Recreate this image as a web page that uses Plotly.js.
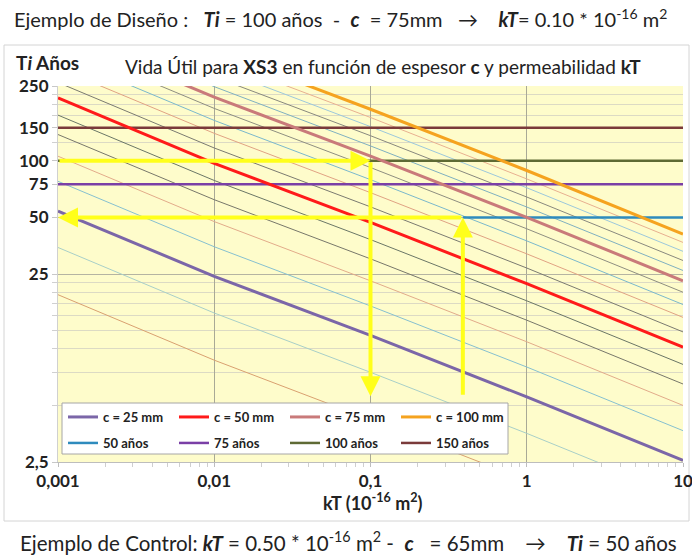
<!DOCTYPE html>
<html><head><meta charset="utf-8">
<script src="https://cdn.plot.ly/plotly-3.0.1.min.js"></script>
<style>html,body{margin:0;padding:0;background:#fff}#chart{width:692px;height:555px}</style>
</head><body><div id="chart"></div>
<script>
// permeability kT (10^-16 m2) at which the curves were read
const kT = [0.001, 0.01, 0.1, 1, 10];
// service life Ti (years) read for each cover thickness c (mm)
const c15  = [19.4, 8.7, 4.2, 2.0, 0.92];
const c20  = [34.6, 15.5, 7.5, 3.55, 1.63];
const c25  = [54, 24.3, 11.8, 5.55, 2.55];
const c30  = [77.8, 34.9, 16.9, 8.0, 3.67];
const c35  = [105.8, 47.5, 23.0, 10.9, 5.0];
const c40  = [138, 62.1, 30.1, 14.2, 6.5];
const c45  = [175, 78.6, 38.1, 18.0, 8.26];
const c50  = [216, 97, 47, 22.2, 10.2];
const c55  = [261, 117, 56.9, 26.9, 12.3];
const c60  = [311, 140, 67.7, 32.0, 14.7];
const c65  = [365, 164, 79.4, 37.5, 17.2];
const c70  = [423, 190, 92.1, 43.5, 20.0];
const c75  = [486, 218, 106, 50.0, 23.0];
const c80  = [553, 248, 120, 56.8, 26.1];
const c85  = [624, 280, 136, 64.2, 29.5];
const c90  = [700, 314, 152, 71.9, 33.0];
const c95  = [780, 350, 170, 80.1, 36.8];
const c100 = [864, 388, 188, 88.8, 40.8];
// reference service-life lines (years) and their kT extent
const yearLevels = [50, 75, 100, 150];
const yearNames = ['50 años', '75 años', '100 años', '150 años'];
const yearStartKT = [0.39, 0.001, 0.001, 0.001];
const yearEndKT = 10;
// examples (design / control)
const designKT = 0.1, designTi = 100;
const controlKT = 0.39, controlTi = 50;
const arrowBottomTi = 5.6;
// tick labels
const xTickVals = [0.001, 0.01, 0.1, 1, 10];
const xTickText = ['0,001', '0,01', '0,1', '1', '10'];
const yTickVals = [2.5, 25, 50, 75, 100, 150, 250];
const yTickText = ['2,5', '25', '50', '75', '100', '150', '250'];
const yMinorVals = [5, 7.5, 10, 12.5, 15, 17.5, 20, 22.5, 125, 175, 200, 225];
const xMinorVals = [0.002,0.003,0.004,0.005,0.006,0.007,0.008,0.009,
  0.02,0.03,0.04,0.05,0.06,0.07,0.08,0.09,
  0.2,0.3,0.4,0.5,0.6,0.7,0.8,0.9,
  2,3,4,5,6,7,8,9];

const thin = [
  [c15, '#d9a070'], [c20, '#a8cfc8'], [c30, '#86c0d0'], [c35, '#e2ab8a'],
  [c40, '#77776a'], [c45, '#6a7666'], [c55, '#7a7a70'], [c60, '#e0a283'],
  [c65, '#7ab8cc'], [c70, '#8e8e80'], [c80, '#7fb0c0'], [c85, '#88887e'],
  [c90, '#9cc8dc'], [c95, '#e8b090']
];
const thick = [
  [c25, 'c = 25 mm', '#7b66a8'], [c50, 'c = 50 mm', '#ff1a1a'],
  [c75, 'c = 75 mm', '#c97a7a'], [c100, 'c = 100 mm', '#f5a31f']
];
const yearColors = ['#2e8bbd', '#7a3fa6', '#5e6a34', '#7a3a3a'];

const traces = [];
thin.forEach(([ys, col]) => traces.push({x: kT, y: ys, mode: 'lines', line: {color: col, width: 1}, showlegend: false, hoverinfo: 'skip'}));
yearLevels.forEach((v, i) => traces.push({x: [yearStartKT[i], yearEndKT], y: [v, v], mode: 'lines', name: yearNames[i], legend: 'legend2', line: {color: yearColors[i], width: 2.5}}));
thick.forEach(([ys, nm, col]) => traces.push({x: kT, y: ys, mode: 'lines', name: nm, legend: 'legend', line: {color: col, width: 3}}));

const xp = px => (px - 58) / 625;
const yp = py => (462 - py) / 376;
const L = Math.log10;
const nb = '\u00a0';

const yellow = '#ffff1a';
function arrow(x, y, ax, ay) {
  return {x: L(x), y: L(y), ax: L(ax), ay: L(ay), xref: 'x', yref: 'y', axref: 'x', ayref: 'y',
    text: '', showarrow: true, arrowhead: 2, arrowsize: 1, arrowwidth: 4, arrowcolor: yellow, standoff: 0};
}

const annotations = [
  {xref: 'paper', yref: 'paper', x: xp(12), y: yp(18), xanchor: 'left', yanchor: 'middle', showarrow: false,
   font: {size: 20, color: '#222'},
   text: 'Ejemplo de Diseño :' + nb + nb + ' <b><i>Ti</i></b> = 100 años ' + nb + '- ' + nb + '<b><i>c</i></b>' + nb + ' = 75mm' + nb + nb + ' →' + nb + nb + nb + ' <b><i>kT</i></b>= 0.10 * 10<sup>-16</sup> m<sup>2</sup>'},
  {xref: 'paper', yref: 'paper', x: xp(18), y: yp(541), xanchor: 'left', yanchor: 'middle', showarrow: false,
   font: {size: 20.5, color: '#222'},
   text: 'Ejemplo de Control: <b><i>kT</i></b> = 0.50 * 10<sup>-16</sup> m<sup>2</sup> - ' + nb + '<b><i>c</i></b>' + nb + nb + ' = 65mm' + nb + nb + nb + ' →' + nb + nb + nb + ' <b><i>Ti</i></b> = 50 años'},
  {xref: 'paper', yref: 'paper', x: xp(383), y: yp(66), xanchor: 'center', yanchor: 'middle', showarrow: false,
   font: {size: 19, color: '#222'},
   text: 'Vida Útil para <b>XS3</b> en función de espesor <b>c</b> y permeabilidad <b>kT</b>'},
  {xref: 'paper', yref: 'paper', x: xp(14), y: yp(62), xanchor: 'left', yanchor: 'middle', showarrow: false,
   font: {size: 19, color: '#222'}, text: '<b>T<i>i</i> Años</b>'},
  {xref: 'paper', yref: 'paper', x: xp(373), y: yp(502), xanchor: 'center', yanchor: 'middle', showarrow: false,
   font: {size: 18, color: '#222'}, text: '<b>kT (10<sup>-16</sup> m<sup>2</sup>)</b>'},
  arrow(designKT, designTi, 0.001, designTi),
  arrow(designKT, arrowBottomTi, designKT, designTi),
  arrow(controlKT, controlTi, controlKT, arrowBottomTi),
  arrow(0.001, controlTi, controlKT, controlTi)
];

const legendCommon = {orientation: 'h', xanchor: 'left', yanchor: 'middle', bgcolor: 'rgba(0,0,0,0)', borderwidth: 0,
  font: {size: 13, color: '#222', weight: 700}, entrywidth: 66, entrywidthmode: 'pixels', itemwidth: 30, traceorder: 'normal'};

const layout = {
  width: 692, height: 555,
  margin: {l: 58, r: 9, t: 86, b: 93},
  paper_bgcolor: '#ffffff', plot_bgcolor: '#fefccb',
  font: {family: 'Lato, "Open Sans", sans-serif', color: '#222'},
  showlegend: true,
  legend: Object.assign({x: xp(63), y: yp(417)}, legendCommon),
  legend2: Object.assign({x: xp(63), y: yp(443)}, legendCommon),
  xaxis: {type: 'log', range: [-3, 1], tickmode: 'array', tickvals: xTickVals, ticktext: xTickText,
    tickfont: {size: 17, weight: 700, color: '#222'}, ticklabeloverflow: 'allow',
    showgrid: true, gridcolor: '#a9a996', gridwidth: 1,
    ticks: 'outside', ticklen: 4, tickcolor: '#bdbdbd', showline: true, linecolor: '#bdbdbd', zeroline: false,
    minor: {tickmode: 'array', tickvals: xMinorVals, ticks: 'outside', ticklen: 4, tickcolor: '#cfcfcf', showgrid: false},
    fixedrange: true},
  yaxis: {type: 'log', range: [L(2.5), L(250)], tickmode: 'array', tickvals: yTickVals, ticktext: yTickText,
    tickfont: {size: 17, weight: 700, color: '#222'}, ticklabeloverflow: 'allow',
    showgrid: true, gridcolor: '#b5b4a2', gridwidth: 1,
    ticks: 'outside', ticklen: 5, tickcolor: '#c8c8c8', showline: true, linecolor: '#d0d0d0', zeroline: false,
    minor: {tickmode: 'array', tickvals: yMinorVals, ticks: 'outside', ticklen: 5, tickcolor: '#d0d0d0', showgrid: true, gridcolor: '#dcdac4', gridwidth: 1},
    fixedrange: true},
  shapes: [
    {type: 'rect', xref: 'paper', yref: 'paper', x0: xp(4), x1: xp(689), y0: yp(521), y1: yp(45),
     line: {color: '#d4d4d4', width: 1}, fillcolor: 'rgba(0,0,0,0)', layer: 'below'},
    {type: 'rect', xref: 'paper', yref: 'paper', x0: xp(62), x1: xp(508), y0: yp(454), y1: yp(403),
     line: {color: '#a6a6a6', width: 1}, fillcolor: '#ffffff', layer: 'above'}
  ],
  annotations: annotations
};

Plotly.newPlot('chart', traces, layout, {displayModeBar: false, staticPlot: true});
</script>
</body></html>
